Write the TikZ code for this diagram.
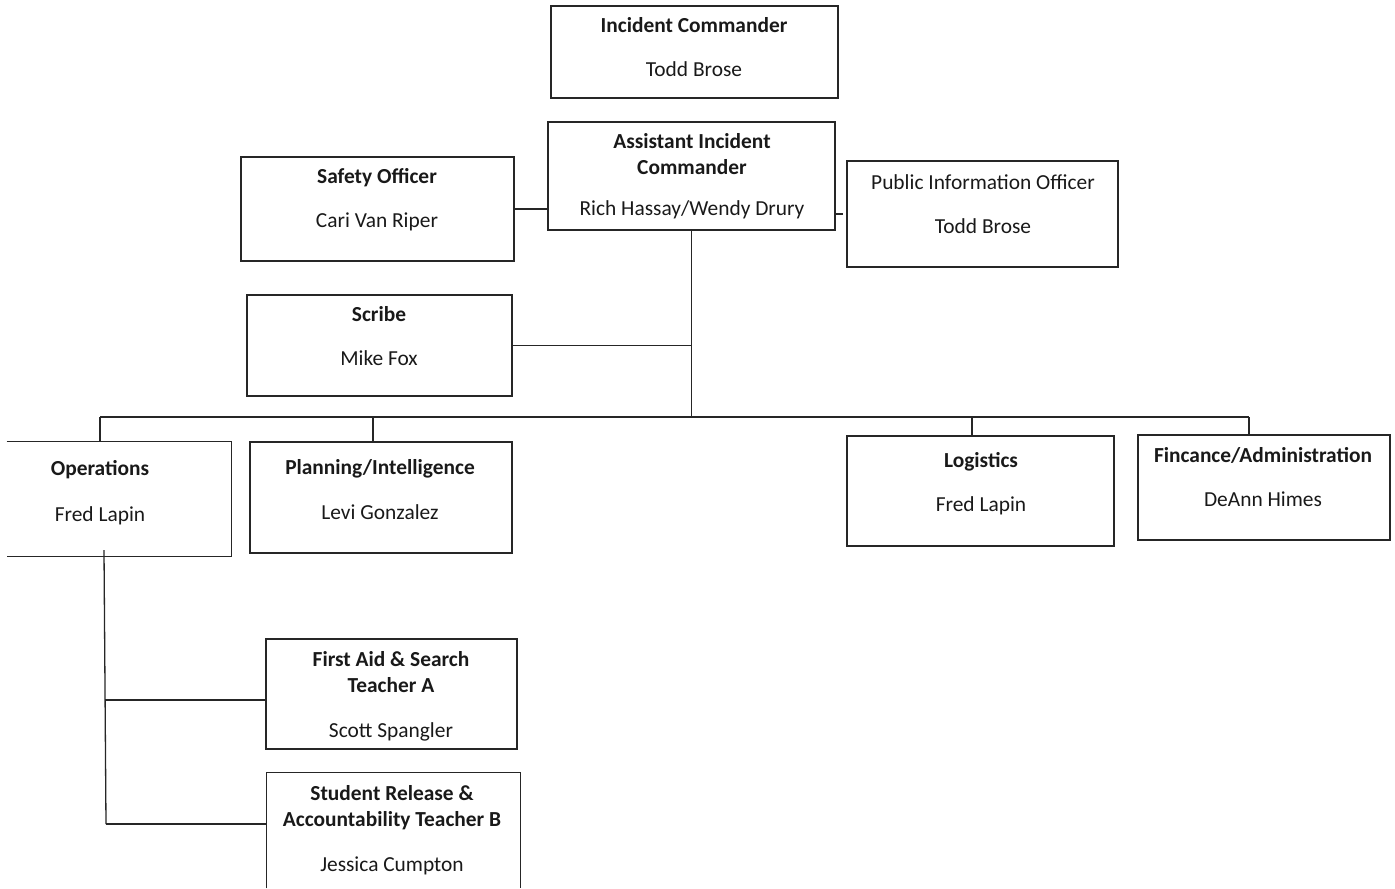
\documentclass[tikz,border=0pt]{standalone}
\usepackage{fontspec}
\setmainfont{Carlito}
\usetikzlibrary{positioning,calc,fit}

\begin{document}
\begin{tikzpicture}[x=0.5pt,y=-0.5pt,
	box/.style={draw=black!85,line width=0.65pt,inner sep=0pt},
	openbox/.style={inner sep=0pt},
	edge/.style={draw=black!85,line width=0.65pt},
	role/.style={font=\fontsize{10.7}{13}\selectfont\bfseries,text=black!90,
		text height=1.5ex,text depth=0.4ex,inner sep=0pt,yshift=-1pt},
	who/.style={font=\fontsize{10.7}{13}\selectfont,text=black!90,
		text height=1.5ex,text depth=0.4ex,inner sep=0pt,yshift=-1pt}]
		
		\useasboundingbox
		(0,0) rectangle (1395,888);
		
		\node[box,fit={(551,6) (838,98)}] (ic) {};
		\node[role] (icrole) at (694,25) {Incident Commander};
		\node[who] (icname) at (694,69) {Todd Brose};
		
		\node[box,fit={(548,122) (835,230)}] (aic) {};
		\node[role] (aicrolea) at (692,141) {Assistant Incident};
		\node[role] (aicroleb) at (692,167) {Commander};
		\node[who] (aicname) at (692,208) {Rich Hassay/Wendy Drury};
		
		\node[box,fit={(241,157) (514,261)}] (safety) {};
		\node[role] (safetyrole) at (377,176) {Safety Officer};
		\node[who] (safetyname) at (377,220) {Cari Van Riper};
		
		\node[box,fit={(847,161) (1118,267)}] (pio) {};
		\node[who] (piorole) at (983,182) {Public Information Officer};
		\node[who] (pioname) at (983,226) {Todd Brose};
		
		\node[box,fit={(247,295) (512,396)}] (scribe) {};
		\node[role] (scriberole) at (379,314) {Scribe};
		\node[who] (scribename) at (379,358) {Mike Fox};
		
		\node[openbox,fit={(7,442) (231,556)}] (ops) {};
		\draw[edge]
		(ops.north west) -- (ops.north east) -- (ops.south east) -- (ops.south west);
		\node[role] (opsrole) at (100,468) {Operations};
		\node[who] (opsname) at (100,514) {Fred Lapin};
		
		\node[box,fit={(250,442) (512,553)}] (plan) {};
		\node[role] (planrole) at (380,467) {Planning/Intelligence};
		\node[who] (planname) at (380,512) {Levi Gonzalez};
		
		\node[box,fit={(847,436) (1114,546)}] (logi) {};
		\node[role] (logirole) at (981,460) {Logistics};
		\node[who] (loginame) at (981,504) {Fred Lapin};
		
		\node[box,fit={(1138,435) (1390,540)}] (fin) {};
		\node[role] (finrole) at (1263,455) {Fincance/Administration};
		\node[who] (finname) at (1263,499) {DeAnn Himes};
		
		\node[box,fit={(266,639) (517,749)}] (aid) {};
		\node[role] (aidrolea) at (391,659) {First Aid \& Search};
		\node[role] (aidroleb) at (391,685) {Teacher A};
		\node[who] (aidname) at (391,730) {Scott Spangler};
		
		\node[openbox,fit={(267,773) (520,888)}] (release) {};
		\draw[edge]
		(release.south west) -- (release.north west) -- (release.north east) -- (release.south east);
		\node[role] (releaserolea) at (392,793) {Student Release \&};
		\node[role] (releaseroleb) at (392,819) {Accountability Teacher B};
		\node[who] (releasename) at (392,864) {Jessica Cumpton};
		
		\coordinate (busw) at (100,417);
		\coordinate (busp) at (373,417);
		\coordinate (busl) at (972,417);
		\coordinate (buse) at (1249,417);
		\coordinate (opstrunk) at (104,550);
		\coordinate (opsaid) at (105,700);
		\coordinate (opsrelease) at (106,824);
		
		\draw[edge]
		(safety.east) -- (aic.west |- safety.east);
		\draw[edge]
		(aic.east |- pio.west) -- ++(7,0);
		\draw[edge]
		(aic.south) -- (aic.south |- busw);
		\draw[edge]
		(scribe.east) -- (scribe.east -| aic.south);
		\draw[edge]
		(busw) -- (buse);
		\draw[edge] (busw) -- (busw |- ops.north);
		\draw[edge] (busp) -- (busp |- plan.north);
		\draw[edge] (busl) -- (busl |- logi.north);
		\draw[edge] (buse) -- (buse |- fin.north);
		\draw[edge]
		(opstrunk) -- (opsrelease);
		\draw[edge]
		(opsaid) -- (opsaid -| aid.west);
		\draw[edge]
		(opsrelease) -- (opsrelease -| release.west);
		
	\end{tikzpicture}
\end{document}
